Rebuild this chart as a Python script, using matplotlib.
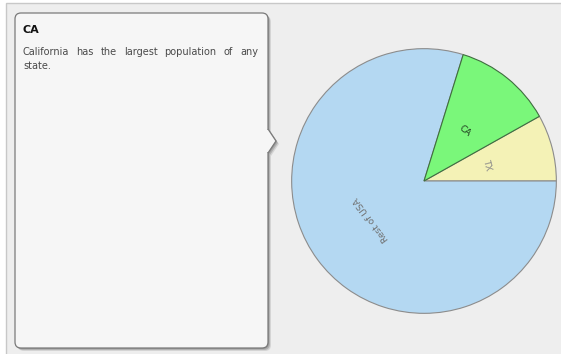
import matplotlib
matplotlib.use("Agg")
import matplotlib.pyplot as plt
from matplotlib.patches import FancyBboxPatch, Polygon, Rectangle
import numpy as np

# population (millions) per region
regions = ["TX", "CA", "Rest of USA"]
population = [25.1, 37.3, 246.3]
slice_colors = ["#f4f2b6", "#7af77a", "#b4d8f2"]
label_colors = ["#8a8a8a", "#1e3a1e", "#707070"]

tip_title = "CA"
tip_lines = ["California has the largest population of any", "state."]

W, H = 561, 354
fig = plt.figure(figsize=(W / 100, H / 100), dpi=100)
fig.patch.set_facecolor("white")

# background layer in pixel coordinates
bg = fig.add_axes([0, 0, 1, 1])
bg.set_xlim(0, W)
bg.set_ylim(H, 0)
bg.axis("off")
bg.add_patch(Rectangle((6, 3), W, H, facecolor="#eeeeee", edgecolor="#c8c8c8", lw=1))

# pie
cx, cy, r = 424, 181, 133
pax = fig.add_axes([(cx - r) / W, 1 - (cy + r) / H, 2 * r / W, 2 * r / H])
wedges, _ = pax.pie(population, colors=slice_colors, startangle=0, counterclock=True,
                    radius=1, wedgeprops=dict(edgecolor="#8c8c8c", linewidth=0.8))
wedges[1].set_edgecolor("#3f6e3f")
wedges[1].set_zorder(3)
pax.set_xlim(-1.005, 1.005)
pax.set_ylim(-1.005, 1.005)
pax.axis("off")

for w, name, col in zip(wedges, regions, label_colors):
    mid = (w.theta1 + w.theta2) / 2
    a = np.deg2rad(mid)
    pax.text(0.49 * np.cos(a), 0.49 * np.sin(a), name, rotation=mid - 90,
             ha="center", va="center", fontsize=6.5, color=col, zorder=5,
             rotation_mode="anchor")

# tooltip box with shadow and pointer
x0, y0, x1, y1 = 15, 13, 268, 348
box_fc = "#f6f6f6"
for off, al in [(3, 0.25), (2, 0.45), (1, 0.6)]:
    bg.add_patch(FancyBboxPatch((x0 + off, y0 + off), x1 - x0, y1 - y0,
                                boxstyle="round,pad=0,rounding_size=6",
                                facecolor="#8a8a8a", edgecolor="none", alpha=al, zorder=2))
    bg.add_patch(Polygon([(x1 + off, 129 + off), (x1 + 8 + off, 141 + off), (x1 + off, 153 + off)],
                         facecolor="#8a8a8a", edgecolor="none", alpha=al, zorder=2))
bg.add_patch(FancyBboxPatch((x0, y0), x1 - x0, y1 - y0,
                            boxstyle="round,pad=0,rounding_size=6",
                            facecolor=box_fc, edgecolor="#7a7a7a", lw=0.9, zorder=3))
bg.add_patch(Rectangle((x1 - 1.5, 130), 2.2, 22, facecolor=box_fc, edgecolor="none", zorder=4))
bg.add_patch(Polygon([(x1, 129), (x1 + 8, 141), (x1, 153)], closed=False,
                     facecolor=box_fc, edgecolor="#7a7a7a", lw=0.9, zorder=4))

bg.text(23, 33, tip_title, fontsize=8, fontweight="bold", color="#111111",
        va="baseline", zorder=5)

# first line justified across the box width
words = tip_lines[0].split()
renderer = fig.canvas.get_renderer()
texts = [bg.text(0, 55, w_, fontsize=7, color="#4a4a4a", va="baseline", zorder=5) for w_ in words]
widths = [t.get_window_extent(renderer).width for t in texts]
left, right = 23, 258
gap = (right - left - sum(widths)) / (len(words) - 1)
xpos = left
for t, wd in zip(texts, widths):
    t.set_x(xpos)
    xpos += wd + gap
bg.text(23, 69, tip_lines[1], fontsize=7, color="#4a4a4a", va="baseline", zorder=5)

fig.savefig("out.png", dpi=100, facecolor=fig.get_facecolor())
